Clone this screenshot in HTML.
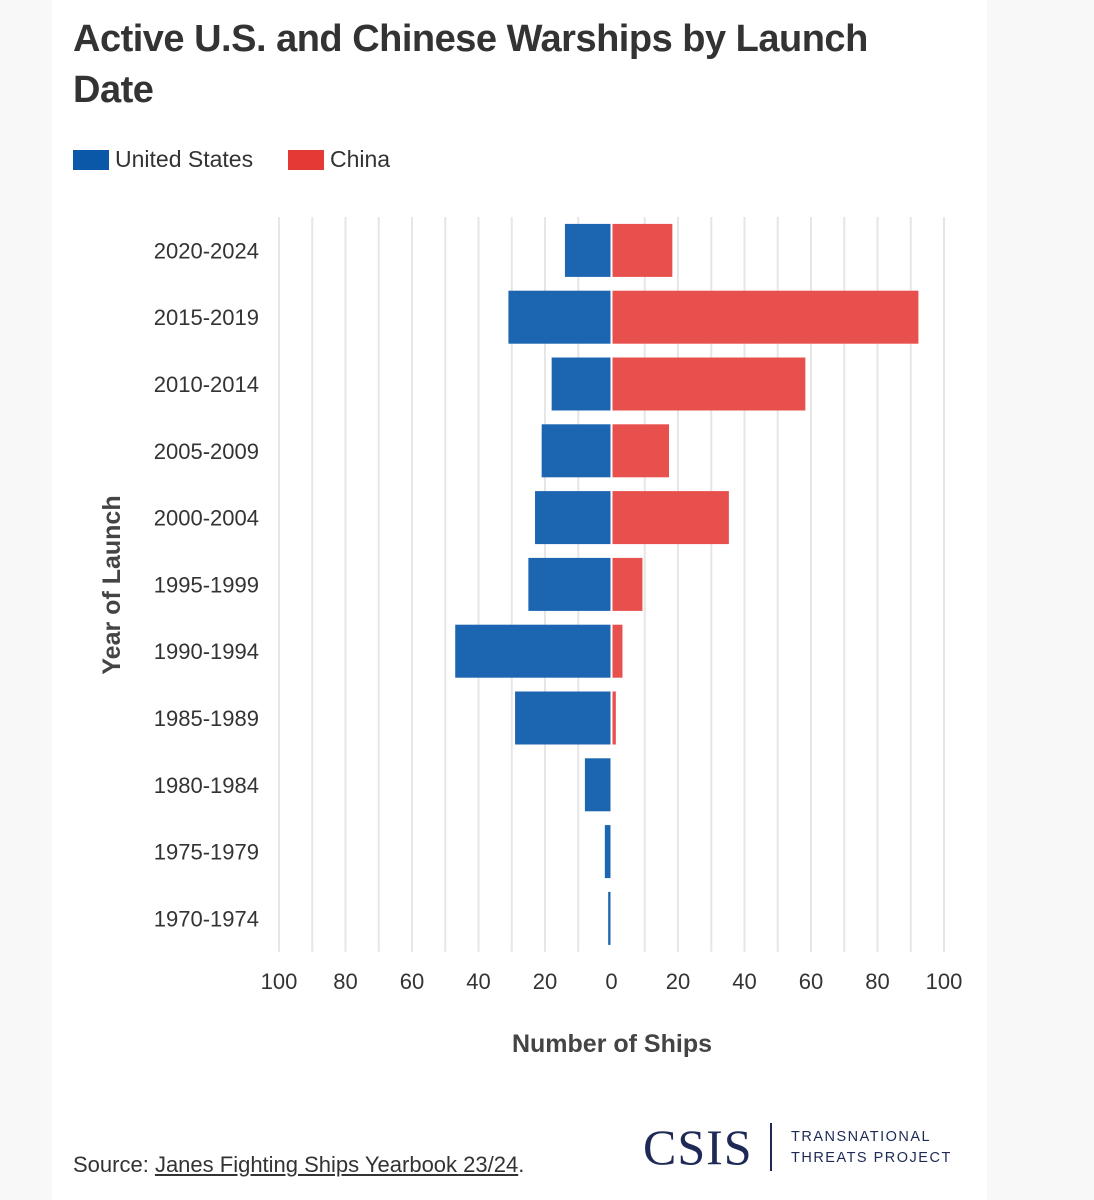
<!DOCTYPE html>
<html><head><meta charset="utf-8"><style>
body{margin:0;width:1094px;height:1200px;background:#f8f8f8;font-family:"Liberation Sans",sans-serif;overflow:hidden}
#card{position:absolute;left:52px;top:0;width:935px;height:1200px;background:#fff}
h1{position:absolute;left:73px;top:14px;margin:0;font-size:38px;line-height:51px;font-weight:bold;color:#333;width:880px;letter-spacing:-0.5px}
.leg{position:absolute;top:146px;font-size:23px;color:#333;display:flex;align-items:center}
.sw{width:36px;height:20px;margin-right:6px;display:inline-block}
#src{position:absolute;left:73px;top:1152px;font-size:22px;color:#333}
#src u{text-decoration:underline}
</style></head><body>
<div id="card"></div>
<h1>Active U.S. and Chinese Warships by Launch Date</h1>
<div class="leg" style="left:73px"><span class="sw" style="background:#0b57a8"></span>United States</div>
<div class="leg" style="left:288px"><span class="sw" style="background:#e53935"></span>China</div>
<svg id="chart" width="1094" height="1200" style="position:absolute;left:0;top:0"></svg>
<div id="src">Source: <u>Janes Fighting Ships Yearbook 23/24</u>.</div>
<div style="position:absolute;left:643px;top:1118px;font-family:'Liberation Serif',serif;font-size:50px;color:#1e2a55;letter-spacing:1px">CSIS</div>
<div style="position:absolute;left:770px;top:1123px;width:2px;height:48px;background:#1e2a55"></div>
<div style="position:absolute;left:791px;top:1127px;font-size:14.5px;line-height:21px;color:#1e2a55;letter-spacing:1.5px">TRANSNATIONAL<br>THREATS PROJECT</div>
<script>
const categories=["2020-2024","2015-2019","2010-2014","2005-2009","2000-2004","1995-1999","1990-1994","1985-1989","1980-1984","1975-1979","1970-1974"];
const usValues=[14,31,18,21,23,25,47,29,8,2,1];
const chinaValues=[18,92,58,17,35,9,3,1,0,0,0];
const tickValues=[-100,-80,-60,-40,-20,0,20,40,60,80,100];
const gridValues=[-100,-90,-80,-70,-60,-50,-40,-30,-20,-10,0,10,20,30,40,50,60,70,80,90,100];
const NS="http://www.w3.org/2000/svg";
const svg=document.getElementById('chart');
const x0=611.5,unit=3.325,top0=217,rowH=66.8,barH=53;
const xs=v=>x0+v*unit;
const yc=i=>top0+rowH*(i+0.5);
function mk(t,a){const e=document.createElementNS(NS,t);for(const k in a)e.setAttribute(k,a[k]);svg.appendChild(e);return e;}
gridValues.forEach(v=>{if(v===0)return;const l=mk('line',{x1:xs(v),x2:xs(v),y1:top0,y2:top0+rowH*11,stroke:'#e6e6e6','stroke-width':2});

});
categories.forEach((c,i)=>{
 const t=mk('text',{x:259,y:yc(i)+8,'text-anchor':'end','font-size':22,fill:'#333','font-family':'Liberation Sans, sans-serif'});t.textContent=c;
 
 
 const u=usValues[i];
 if(u>0){const r=mk('rect',{x:xs(-u),y:yc(i)-barH/2,width:u*unit,height:barH,fill:'#1560ad',opacity:0.97});
 
 }
 const ch=chinaValues[i];
 if(ch>0){const r=mk('rect',{x:x0+1,y:yc(i)-barH/2,width:ch*unit,height:barH,fill:'#e8504d'});
 
 }
});
const zl=mk('line',{x1:x0,x2:x0,y1:top0,y2:top0+rowH*11,stroke:'#fff','stroke-width':2});


tickValues.forEach(v=>{const t=mk('text',{x:xs(v),y:989,'text-anchor':'middle','font-size':22,fill:'#333','font-family':'Liberation Sans, sans-serif'});t.textContent=Math.abs(v);

});
const xt=mk('text',{x:612,y:1052,'text-anchor':'middle','font-size':25,'font-weight':'bold',fill:'#444','font-family':'Liberation Sans, sans-serif'});xt.textContent='Number of Ships';


const yt=mk('text',{x:0,y:0,transform:'translate(120,585) rotate(-90)','text-anchor':'middle','font-size':25,'font-weight':'bold',fill:'#444','font-family':'Liberation Sans, sans-serif'});yt.textContent='Year of Launch';


</script>
</body></html>
